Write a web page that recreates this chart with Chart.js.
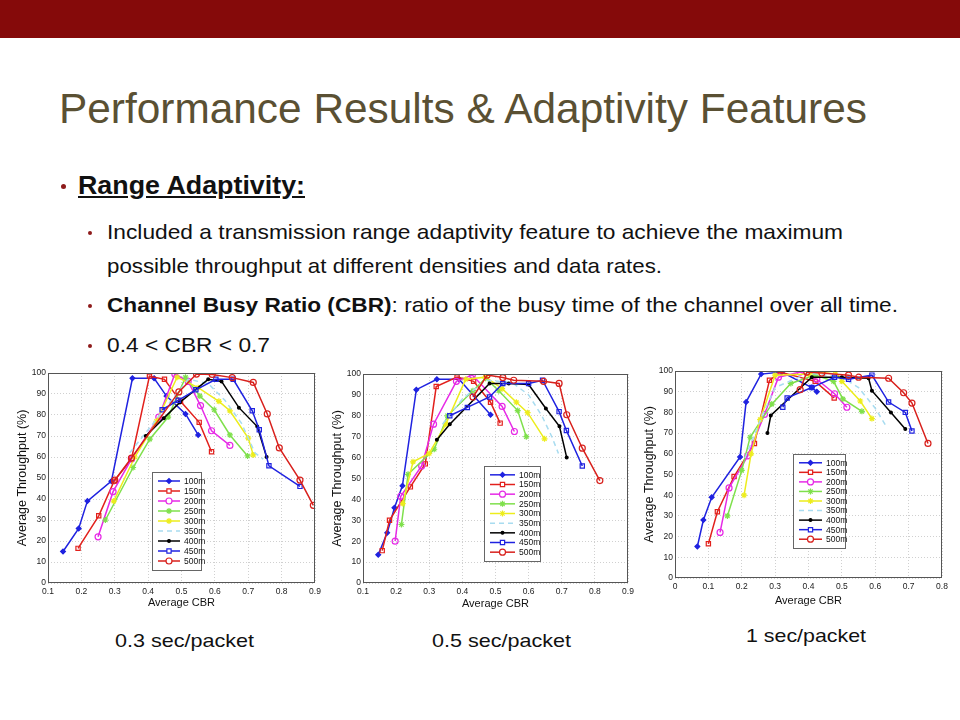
<!DOCTYPE html>
<html><head><meta charset="utf-8">
<script src="https://cdn.jsdelivr.net/npm/chart.js@4.4.0/dist/chart.umd.min.js"></script>
<style>
html,body{margin:0;padding:0;background:#fff;}
body{width:960px;height:720px;position:relative;overflow:hidden;font-family:"Liberation Sans",Arial,sans-serif;}
#bar{position:absolute;left:0;top:0;width:960px;height:38px;background:#850a0a;}
.t{position:absolute;white-space:nowrap;transform-origin:0 0;line-height:1;color:#111;}
.dot{position:absolute;border-radius:50%;background:#8e1b1b;}
.cw{position:absolute;}
</style></head>
<body>
<div id="bar"></div>
<div class="t" style="left:59px;top:88.4px;font-size:42px;color:#5a5033" data-w="808">Performance Results &amp; Adaptivity Features</div>
<div class="dot" style="left:60.5px;top:184px;width:5px;height:5px"></div>
<div class="t" style="left:78px;top:172.8px;font-size:25px;font-weight:bold;text-decoration:underline" data-w="227">Range Adaptivity:</div>
<div class="dot" style="left:88px;top:231px;width:4px;height:4px"></div>
<div class="t" style="left:107px;top:221.2px;font-size:21px" data-w="736">Included a transmission range adaptivity feature to achieve the maximum</div>
<div class="t" style="left:107px;top:255.2px;font-size:21px" data-w="555">possible throughput at different densities and data rates.</div>
<div class="dot" style="left:88px;top:304px;width:4px;height:4px"></div>
<div class="t" style="left:107px;top:294.2px;font-size:21px" data-w="791"><b>Channel Busy Ratio (CBR)</b>: ratio of the busy time of the channel over all time.</div>
<div class="dot" style="left:88px;top:344px;width:4px;height:4px"></div>
<div class="t" style="left:107px;top:334.2px;font-size:21px" data-w="163">0.4 &lt; CBR &lt; 0.7</div>

<div class="cw" style="left:15px;top:365px"><canvas id="c1" width="310" height="245"></canvas></div>
<div class="cw" style="left:330px;top:366px"><canvas id="c2" width="310" height="245"></canvas></div>
<div class="cw" style="left:642px;top:363px"><canvas id="c3" width="310" height="245"></canvas></div>

<div class="t" style="left:115px;top:630.9px;font-size:19px" data-w="139">0.3 sec/packet</div>
<div class="t" style="left:432px;top:630.9px;font-size:19px" data-w="139">0.5 sec/packet</div>
<div class="t" style="left:746px;top:625.9px;font-size:19px" data-w="120">1 sec/packet</div>

<script>
// ---------- DATA ----------
const seriesNames = ['100m','150m','200m','250m','300m','350m','400m','450m','500m'];
const yTickValues = [0,10,20,30,40,50,60,70,80,90,100];
const xTicks03 = [0.1,0.2,0.3,0.4,0.5,0.6,0.7,0.8,0.9];
const xTicks05 = [0.1,0.2,0.3,0.4,0.5,0.6,0.7,0.8,0.9];
const xTicks1  = [0,0.1,0.2,0.3,0.4,0.5,0.6,0.7,0.8];

// 0.3 sec/packet  [CBR, throughput %]
const p03_100 = [[0.145,15],[0.192,26],[0.218,39],[0.29,48.5],[0.353,97.5],[0.418,97.5],[0.455,89],[0.512,80.5],[0.55,70.5]];
const p03_150 = [[0.19,16.5],[0.252,32],[0.298,48.5],[0.35,59],[0.404,98.5],[0.449,97],[0.497,86.5],[0.553,76.5],[0.59,62.5]];
const p03_200 = [[0.25,22],[0.295,43.5],[0.35,59],[0.432,79],[0.48,99.5],[0.52,96],[0.557,84.5],[0.59,72.5],[0.645,65.5]];
const p03_250 = [[0.272,30],[0.355,55],[0.405,68.5],[0.46,79],[0.512,98],[0.555,89],[0.598,82.5],[0.645,70.5],[0.698,60.5]];
const p03_300 = [[0.297,39],[0.36,60],[0.425,77],[0.487,98],[0.55,93],[0.612,86.5],[0.645,82],[0.7,69],[0.715,61]];
const p03_350 = [[0.345,62],[0.42,77],[0.52,97],[0.58,95],[0.63,87],[0.68,76],[0.72,62],[0.745,59]];
const p03_400 = [[0.393,70],[0.447,78.5],[0.495,86],[0.58,97],[0.62,96],[0.672,83.5],[0.727,74.5],[0.755,60]];
const p03_450 = [[0.442,82.5],[0.49,87],[0.543,92],[0.603,97],[0.655,97],[0.712,82],[0.733,73],[0.762,55.8],[0.855,46]];
const p03_500 = [[0.3,49],[0.35,59.5],[0.492,91],[0.545,99.5],[0.592,99.3],[0.652,97.8],[0.715,95.5],[0.757,80.5],[0.793,64.3],[0.855,49],[0.895,37]];

// 0.5 sec/packet
const p05_100 = [[0.146,13.5],[0.173,24],[0.195,36],[0.219,46.5],[0.261,92.5],[0.323,97.5],[0.39,97.5],[0.485,80.5]];
const p05_150 = [[0.158,15.5],[0.18,30],[0.243,46],[0.288,57],[0.321,94],[0.384,98.5],[0.434,96.5],[0.485,86.5],[0.514,76.5]];
const p05_200 = [[0.197,20],[0.214,41.5],[0.277,56],[0.313,76],[0.382,96.5],[0.43,99.5],[0.52,84.5],[0.557,72.5]];
const p05_250 = [[0.216,28],[0.236,52],[0.315,64],[0.355,80],[0.432,92],[0.47,98],[0.51,92],[0.567,82.5],[0.593,70]];
const p05_300 = [[0.22,38],[0.251,58],[0.3,62],[0.35,76],[0.41,97.5],[0.47,98.5],[0.52,93],[0.563,86.5],[0.597,81.5],[0.648,69]];
const p05_350 = [[0.34,76],[0.4,88],[0.47,97],[0.55,96],[0.6,90],[0.64,80],[0.67,70],[0.69,62]];
const p05_400 = [[0.323,68.5],[0.362,76],[0.482,95.5],[0.54,95.5],[0.6,95],[0.652,83.5],[0.693,75],[0.715,60]];
const p05_450 = [[0.362,80],[0.415,84],[0.482,89],[0.522,95.5],[0.6,95.5],[0.642,97],[0.692,82],[0.714,73],[0.762,56]];
const p05_500 = [[0.432,89],[0.475,99.5],[0.522,98.3],[0.555,97],[0.645,96.5],[0.692,95.5],[0.715,80.5],[0.762,64.5],[0.815,49]];

// 1 sec/packet
const p1_100 = [[0.067,15.2],[0.085,28],[0.11,39],[0.195,58.5],[0.213,85],[0.258,98.5],[0.32,99.5],[0.41,92],[0.425,90]];
const p1_150 = [[0.1,16.5],[0.127,32],[0.177,49],[0.238,65],[0.283,95.5],[0.315,99.5],[0.42,95],[0.477,87]];
const p1_200 = [[0.135,22],[0.162,43.5],[0.218,59],[0.268,79],[0.31,97],[0.375,99.5],[0.425,96],[0.478,89],[0.515,82.5]];
const p1_250 = [[0.157,30],[0.2,52],[0.225,68],[0.29,84],[0.347,94],[0.42,98],[0.475,95],[0.503,86.5],[0.56,80.5]];
const p1_300 = [[0.207,40],[0.228,60],[0.255,76.5],[0.3,98],[0.4,98.5],[0.48,100],[0.5,95],[0.555,85.5],[0.59,77]];
const p1_350 = [[0.21,58],[0.26,78],[0.3,92],[0.4,99],[0.5,97],[0.55,92],[0.6,82],[0.63,74]];
const p1_400 = [[0.277,70],[0.287,78.5],[0.41,97],[0.5,97],[0.58,96.5],[0.59,90.5],[0.647,80],[0.69,72]];
const p1_450 = [[0.323,82.5],[0.336,87],[0.41,92],[0.478,97],[0.52,96],[0.59,98],[0.64,85],[0.69,80],[0.71,71]];
const p1_500 = [[0.375,91],[0.395,99.5],[0.44,99],[0.52,98],[0.55,97],[0.64,96.5],[0.685,89.5],[0.71,84.5],[0.758,65]];

const chart03 = [p03_100,p03_150,p03_200,p03_250,p03_300,p03_350,p03_400,p03_450,p03_500];
const chart05 = [p05_100,p05_150,p05_200,p05_250,p05_300,p05_350,p05_400,p05_450,p05_500];
const chart1  = [p1_100,p1_150,p1_200,p1_250,p1_300,p1_350,p1_400,p1_450,p1_500];

// ---------- STYLE ----------
const styles = [
  {color:'#1f22e0', ps:'rectRot', r:2.4, fill:true},
  {color:'#e2201c', ps:'rect', r:3, fill:false},
  {color:'#e62ae6', ps:'circle', r:3, fill:false},
  {color:'#7fe04c', ps:'star', r:3, fill:true},
  {color:'#eded1c', ps:'star', r:3, fill:true},
  {color:'#a8dcf0', ps:false, r:0, fill:false, dash:[5,4]},
  {color:'#000000', ps:'circle', r:1.4, fill:true},
  {color:'#1f22e0', ps:'rect', r:3, fill:false},
  {color:'#d8201c', ps:'circle', r:3, fill:false}
];

// text fitting
document.querySelectorAll('[data-w]').forEach(el=>{
  const w = el.getBoundingClientRect().width;
  el.style.transform = 'scaleX(' + (+el.dataset.w / w) + ')';
});

const boxLegend = {
  id:'boxLegend',
  afterDatasetsDraw(chart, args, opts){
    const ctx = chart.ctx, a = chart.chartArea;
    ctx.save();
    ctx.setLineDash([]);
    ctx.strokeStyle = '#555'; ctx.lineWidth = 1;
    ctx.strokeRect(Math.round(a.left)+0.5, Math.round(a.top)+0.5, Math.round(a.right-a.left)-1, Math.round(a.bottom-a.top)-1);
    const L = opts.box;
    ctx.fillStyle = '#fff';
    ctx.fillRect(L.x, L.y, L.w, L.h);
    ctx.strokeStyle = '#666';
    ctx.strokeRect(L.x+0.5, L.y+0.5, L.w, L.h);
    const rh = (L.h - 8) / seriesNames.length;
    ctx.font = '8.5px "Liberation Sans", Arial, sans-serif';
    ctx.textBaseline = 'middle';
    seriesNames.forEach((name, i) => {
      const s = styles[i];
      const y = L.y + 4 + rh * (i + 0.5);
      const x0 = L.x + 6, x1 = L.x + 6 + L.line;
      ctx.strokeStyle = s.color; ctx.lineWidth = 1.5;
      ctx.setLineDash(s.dash || []);
      ctx.beginPath(); ctx.moveTo(x0, y); ctx.lineTo(x1, y); ctx.stroke();
      ctx.setLineDash([]);
      if (s.ps) {
        ctx.fillStyle = s.fill ? s.color : '#fff';
        ctx.lineWidth = 1.2;
        Chart.helpers.drawPoint(ctx, {pointStyle:s.ps, radius:s.r, rotation:0, borderWidth:1.2}, (x0+x1)/2, y);
      }
      ctx.fillStyle = '#111';
      ctx.fillText(name, x1 + 4, y + 0.5);
    });
    ctx.restore();
  }
};

function fmt(v){ const r = Math.round(v*10)/10; return r === 0 ? '0' : r.toFixed(1); }

function build(id, data, xTicks, geo){
  const datasets = data.map((arr, i) => {
    const s = styles[i];
    return {
      label: seriesNames[i],
      data: arr.map(p => ({x:p[0], y:p[1]})),
      showLine: true,
      borderColor: s.color,
      backgroundColor: s.fill ? s.color : 'rgba(255,255,255,0)',
      borderWidth: 1.5,
      borderDash: s.dash || [],
      pointStyle: s.ps || 'circle',
      pointRadius: s.r,
      pointBorderWidth: 1.2,
      pointBorderColor: s.color,
      pointBackgroundColor: s.fill ? s.color : 'rgba(255,255,255,0)',
      tension: 0,
      order: seriesNames.length - i
    };
  });
  new Chart(document.getElementById(id), {
    type: 'scatter',
    data: {datasets},
    plugins: [boxLegend],
    options: {
      responsive: false, animation: false, events: [],
      layout: {padding: {top: geo.top, right: geo.right, left: 0, bottom: 0}},
      plugins: {legend:{display:false}, tooltip:{enabled:false}, boxLegend:{box: geo.legend}},
      scales: {
        x: {
          type: 'linear', min: xTicks[0], max: xTicks[xTicks.length-1],
          afterBuildTicks: sc => { sc.ticks = xTicks.map(v => ({value:v})); },
          afterFit: sc => { sc.height = geo.xh; },
          ticks: {callback: v => fmt(v), font:{size:8.5, family:'"Liberation Sans", Arial'}, color:'#222', padding:4, maxRotation:0, autoSkip:false},
          grid: {color:'#c4c4c4', lineWidth:0.8, drawTicks:false},
          border: {display:false, dash:[1,2]},
          title: {display:true, text:'Average CBR', font:{size:11, family:'"Liberation Sans", Arial'}, color:'#111', padding:{top:1,bottom:0}}
        },
        y: {
          min: 0, max: 100,
          afterBuildTicks: sc => { sc.ticks = yTickValues.map(v => ({value:v})); },
          afterFit: sc => { sc.width = 33; },
          ticks: {font:{size:8.5, family:'"Liberation Sans", Arial'}, color:'#222', padding:2, autoSkip:false},
          grid: {color:'#c4c4c4', lineWidth:0.8, drawTicks:false},
          border: {display:false, dash:[1,2]},
          title: {display:true, text:'Average Throughput (%)', font:{size:12.5, family:'"Liberation Sans", Arial'}, color:'#111', padding:{top:0,bottom:1}}
        }
      }
    }
  });
}

build('c1', chart03, xTicks03, {top:8, right:10, xh:27, legend:{x:137, y:107, w:49, h:98, line:22}});
build('c2', chart05, xTicks05, {top:8, right:12, xh:28, legend:{x:154, y:100, w:56, h:95, line:25}});
build('c3', chart1,  xTicks1,  {top:8, right:10, xh:30, legend:{x:151, y:91, w:52, h:94, line:23}});
</script>
</body></html>
